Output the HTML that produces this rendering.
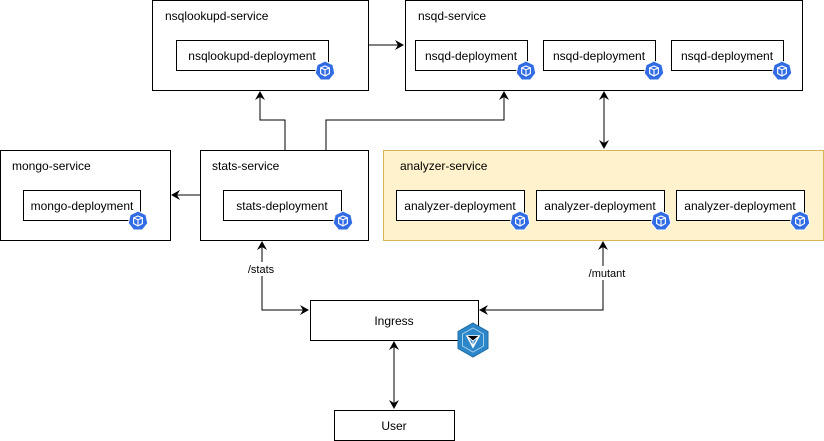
<!DOCTYPE html>
<html><head><meta charset="utf-8"><style>
html,body{margin:0;padding:0;background:#fff;width:824px;height:441px;overflow:hidden}
text{font-family:"Liberation Sans",sans-serif;font-size:12px;fill:#000}
</style></head><body>
<svg width="824" height="441" viewBox="0 0 824 441" xmlns="http://www.w3.org/2000/svg">
<defs>
<marker id="a" markerWidth="10" markerHeight="10" refX="8" refY="5" orient="auto-start-reverse" markerUnits="userSpaceOnUse">
<path d="M0,0 L9,5 L0,10 L3,5 Z" fill="#000"/></marker>
<g id="k"><g transform="scale(1.25)"><polygon points="0,-8 6.3,-5 7.8,1.8 3.5,7.2 -3.5,7.2 -7.8,1.8 -6.3,-5" fill="#326ce5" stroke="#fff" stroke-width="0.8"/>
<path d="M-3.5,-2.5 L0,-4 L3.5,-2.5 L3.5,2 L0,4 L-3.5,2 Z M-3.5,-2.5 L0,-1 L3.5,-2.5 M0,-1 L0,4" fill="none" stroke="#fff" stroke-width="0.9"/></g></g>
</defs>
<g fill="#fff" stroke="#000" stroke-width="1">
<rect x="152.5" y="0.5" width="216" height="90"/>
<rect x="405.5" y="0.5" width="397" height="90"/>
<rect x="0.5" y="150.5" width="170" height="90"/>
<rect x="200.5" y="150.5" width="168" height="90"/>
<rect x="383.5" y="150.5" width="440" height="90" fill="#fff2cc" stroke="#d6b656"/>
<rect x="176.5" y="40.5" width="152" height="30"/>
<rect x="415.5" y="40.5" width="112" height="30"/>
<rect x="543.5" y="40.5" width="112" height="30"/>
<rect x="671.5" y="40.5" width="112" height="30"/>
<rect x="23.5" y="190.5" width="117" height="30"/>
<rect x="223.5" y="190.5" width="118" height="30"/>
<rect x="396.5" y="190.5" width="128" height="30"/>
<rect x="536.5" y="190.5" width="128" height="30"/>
<rect x="676.5" y="190.5" width="128" height="30"/>
<rect x="310.5" y="300.5" width="168" height="40"/>
<rect x="334.5" y="410.5" width="120" height="30"/>
</g>
<text x="165" y="20">nsqlookupd-service</text>
<text x="418" y="20">nsqd-service</text>
<text x="12" y="170">mongo-service</text>
<text x="212" y="170">stats-service</text>
<text x="400" y="170">analyzer-service</text>
<g text-anchor="middle">
<text x="252" y="60">nsqlookupd-deployment</text>
<text x="471" y="60">nsqd-deployment</text>
<text x="599" y="60">nsqd-deployment</text>
<text x="727" y="60">nsqd-deployment</text>
<text x="82" y="210">mongo-deployment</text>
<text x="282" y="210">stats-deployment</text>
<text x="460" y="210">analyzer-deployment</text>
<text x="600" y="210">analyzer-deployment</text>
<text x="740" y="210">analyzer-deployment</text>
<text x="394" y="325">Ingress</text>
<text x="394" y="430">User</text>
</g>
<use href="#k" x="325" y="71"/><use href="#k" x="526" y="71"/><use href="#k" x="654" y="71"/><use href="#k" x="782" y="71"/>
<use href="#k" x="138" y="221"/><use href="#k" x="343" y="221"/><use href="#k" x="520" y="221"/><use href="#k" x="661" y="221"/><use href="#k" x="800" y="221"/>
<g fill="none" stroke="#000" stroke-width="1">
<path d="M368,45 H403" marker-end="url(#a)"/>
<path d="M285,150 V120 H260 V92" marker-end="url(#a)"/>
<path d="M326,150 V120 H504 V92" marker-end="url(#a)"/>
<path d="M604,92 V148" marker-start="url(#a)" marker-end="url(#a)"/>
<path d="M200,195 H172" marker-end="url(#a)"/>
<path d="M262,242 V310 H308" marker-start="url(#a)" marker-end="url(#a)"/>
<path d="M603,242 V310 H480" marker-start="url(#a)" marker-end="url(#a)"/>
<path d="M394,342 V408" marker-start="url(#a)" marker-end="url(#a)"/>
</g>
<rect x="245" y="262" width="32" height="14" fill="#fff"/>
<text x="261" y="273" text-anchor="middle" style="font-size:11px">/stats</text>
<rect x="586" y="266" width="40" height="14" fill="#fff"/>
<text x="607" y="277" text-anchor="middle" style="font-size:11px">/mutant</text>
<g transform="translate(473,340)">
<polygon points="0,-17 15,-8.5 15,8.5 0,17 -15,8.5 -15,-8.5" fill="#2d86c8" stroke="#1f6ea8"/>
<polygon points="0,-12 10.5,-6 10.5,6 0,12 -10.5,6 -10.5,-6" fill="none" stroke="#9fd0f0" stroke-width="1"/>
<polygon points="-6,-4 6,-4 0,7" fill="none" stroke="#fff" stroke-width="1.5"/>
<path d="M-6,-4 L0,1 L6,-4 M0,1 L0,7" stroke="#fff" stroke-width="1"/>
</g>
</svg>
</body></html>
